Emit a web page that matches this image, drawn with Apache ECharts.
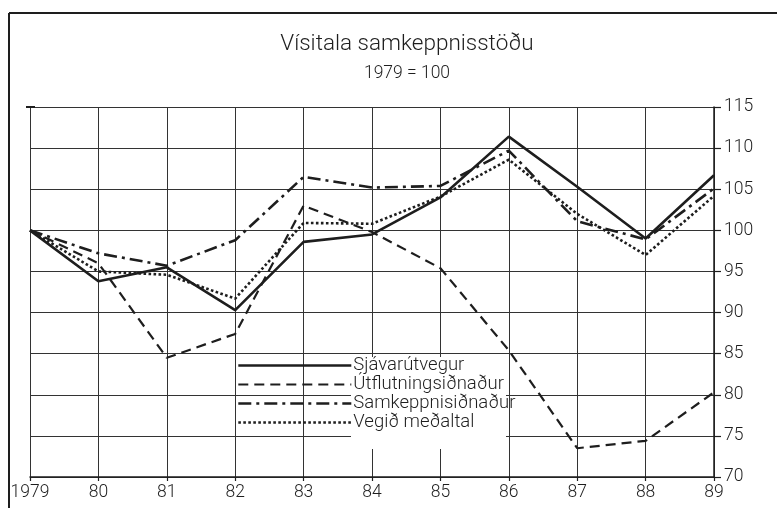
<!DOCTYPE html>
<html>
<head>
<meta charset="utf-8">
<script src="https://cdn.jsdelivr.net/npm/echarts@6/dist/echarts.min.js"></script>
<style>
html,body{margin:0;padding:0;background:#fff;}
#c{width:777px;height:508px;}
</style>
</head>
<body>
<div id="c"></div>
<script>
const years = ['1979','80','81','82','83','84','85','86','87','88','89'];
const yTicks = [70, 115, 5];
const seriesNames = ['Sjávarútvegur','Útflutningsiðnaður','Samkeppnisiðnaður','Vegið meðaltal'];
const sjavarutvegur = [100, 93.8, 95.5, 90.3, 98.6, 99.5, 104.0, 111.4, 105.3, 99.0, 106.7];
const utflutningsidnadur = [100, 96.0, 84.5, 87.4, 103.0, 99.8, 95.4, 85.4, 73.5, 74.4, 80.3];
const samkeppnisidnadur = [100, 97.2, 95.7, 98.8, 106.5, 105.2, 105.4, 109.7, 101.1, 98.9, 105.1];
const vegidMedaltal = [100, 95.0, 94.6, 91.7, 100.9, 100.8, 104.1, 108.6, 102.0, 97.0, 104.2];
const titleText = 'Vísitala samkeppnisstöðu';
const subtitleText = '1979 = 100';

const FONT = 'Roboto, "Liberation Sans", sans-serif';
const INK = '#1e1e1e';
const styles = [
  {width: 2.6, type: 'solid'},
  {width: 2.2, type: [10, 6]},
  {width: 2.6, type: [13, 5, 3, 5]},
  {width: 2.6, type: [2.6, 2.4]}
];
const values = [sjavarutvegur, utflutningsidnadur, samkeppnisidnadur, vegidMedaltal];

const chart = echarts.init(document.getElementById('c'), null, {renderer: 'canvas'});
chart.setOption({
  animation: false,
  backgroundColor: '#fff',
  grid: {left: 30, right: 63, top: 107, bottom: 31, containLabel: false},
  xAxis: {
    type: 'category', data: years, boundaryGap: false,
    axisLine: {lineStyle: {color: INK, width: 1.5}},
    axisTick: {show: true, length: 4, lineStyle: {color: INK, width: 1.2}},
    axisLabel: {interval: 0, margin: 7, fontFamily: FONT, fontWeight: 300, fontSize: 17.5, color: INK},
    splitLine: {show: true, lineStyle: {color: '#333', width: 1}}
  },
  yAxis: {
    type: 'value', position: 'right', min: yTicks[0], max: yTicks[1], interval: yTicks[2],
    axisLine: {show: true, lineStyle: {color: INK, width: 1.5}},
    axisTick: {show: true, length: 7, lineStyle: {color: INK, width: 1.2}},
    axisLabel: {margin: 10, fontFamily: FONT, fontWeight: 300, fontSize: 17.5, color: INK},
    splitLine: {show: true, lineStyle: {color: '#333', width: 1}}
  },
  legend: {
    orient: 'vertical', left: 237, top: 356, itemWidth: 113, itemHeight: 19, itemGap: 0,
    padding: 0, selectedMode: false,
    itemStyle: {color: 'rgba(0,0,0,0)', borderWidth: 0},
    textStyle: {fontFamily: FONT, fontWeight: 300, fontSize: 18.5, lineHeight: 19, color: INK, padding: [0,0,0,-3]},
    data: seriesNames.map((n, i) => ({name: n, lineStyle: {color: INK, width: styles[i].width, type: styles[i].type}}))
  },
  graphic: [
    {type: 'line', z: 10, shape: {x1: 9, y1: 13, x2: 777, y2: 13}, style: {stroke: INK, lineWidth: 2}},
    {type: 'line', z: 10, shape: {x1: 9, y1: 13, x2: 9, y2: 508}, style: {stroke: INK, lineWidth: 2}},
    {type: 'rect', z: 1, shape: {x: 351, y: 357, width: 155, height: 92}, style: {fill: '#fff'}},
    {type: 'line', z: 10, shape: {x1: 26, y1: 107, x2: 35, y2: 107}, style: {stroke: INK, lineWidth: 2}},
    {type: 'text', z: 10, x: 407, y: 33, style: {text: titleText, textAlign: 'center', fontFamily: FONT, fontWeight: 300, fontSize: 22.5, fill: INK}},
    {type: 'text', z: 10, x: 407, y: 65, style: {text: subtitleText, textAlign: 'center', fontFamily: FONT, fontWeight: 300, fontSize: 17.5, fill: INK}}
  ],
  series: seriesNames.map((n, i) => ({
    name: n, type: 'line', data: values[i], symbol: 'none', z: 5,
    lineStyle: {color: INK, width: styles[i].width, type: styles[i].type, cap: 'butt'}
  }))
});
</script>
</body>
</html>
